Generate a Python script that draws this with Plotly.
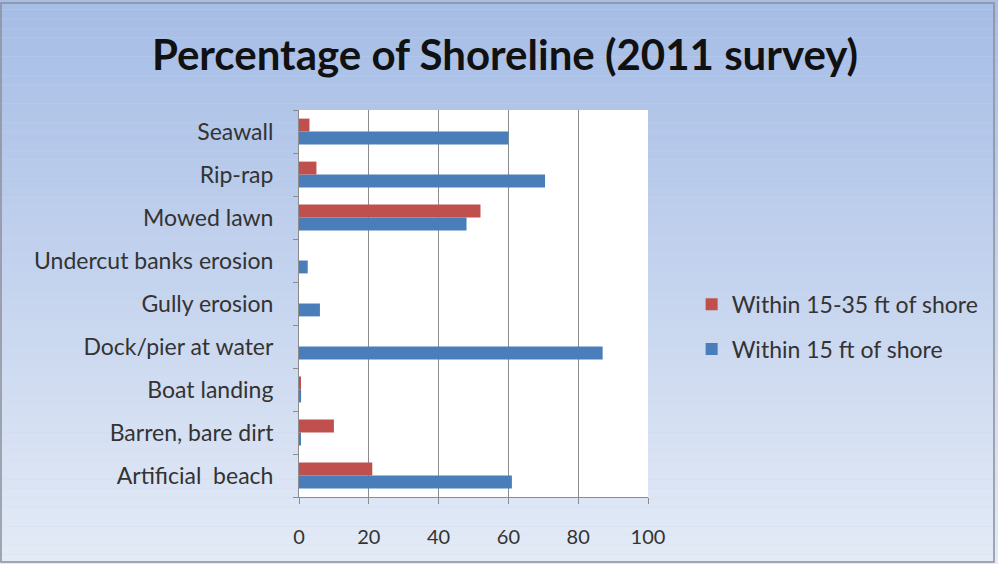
import plotly.graph_objects as go

categories = ["Artificial  beach", "Barren, bare dirt", "Boat landing", "Dock/pier at water",
              "Gully erosion", "Undercut banks erosion", "Mowed lawn", "Rip-rap", "Seawall"]
within_15 = [61, 0.5, 0.6, 87, 6, 2.5, 48, 70.5, 60]
within_15_35 = [21, 10, 0.5, 0, 0, 0, 52, 5, 3]
x_ticks = [0, 20, 40, 60, 80, 100]

W, H = 998, 564
L, R, T, B = 299, 350, 110, 67
PW, PH = W - L - R, H - T - B

fig = go.Figure()
fig.add_trace(go.Bar(y=categories, x=within_15, orientation="h", name="Within 15 ft of shore",
                     legendgroup="a", legendrank=2,
                     marker=dict(color="#4a7ebb", line=dict(width=0))))
fig.add_trace(go.Bar(y=categories, x=within_15_35, orientation="h", name="Within 15-35 ft of shore",
                     legendgroup="b", legendrank=1,
                     marker=dict(color="#c0504d", line=dict(width=0))))

# background gradient (decorative)
shapes = []
n = 60
top = (166, 189, 230)
bot = (228, 235, 247)
for i in range(n):
    f = i / (n - 1)
    c = tuple(int(top[k] + (bot[k] - top[k]) * f) for k in range(3))
    shapes.append(dict(type="rect", xref="paper", yref="paper",
                       x0=-L / PW, x1=(W - L) / PW,
                       y0=1 + T / PH - (i + 1) * (H / PH) / n,
                       y1=1 + T / PH - i * (H / PH) / n,
                       fillcolor="rgb(%d,%d,%d)" % c, line=dict(width=0), layer="below"))
shapes.append(dict(type="rect", xref="paper", yref="paper", x0=0, x1=1, y0=0, y1=1,
                   fillcolor="white", line=dict(width=0), layer="below"))
shapes.append(dict(type="rect", xref="paper", yref="paper",
                   x0=(1 - L) / PW, x1=(W - L - 4) / PW,
                   y0=-(B - 2) / PH, y1=1 + (T - 3) / PH,
                   fillcolor="rgba(0,0,0,0)", line=dict(width=1.5, color="#8a8f99")))

fig.update_layout(
    width=W, height=H,
    margin=dict(l=L, r=R, t=T, b=B, autoexpand=False),
    paper_bgcolor="#c9d7ee", plot_bgcolor="rgba(0,0,0,0)",
    barmode="group", bargap=0.4, bargroupgap=0,
    shapes=shapes,
    title=dict(text="<b>Percentage of Shoreline (2011 survey)</b>", x=505 / W, xref="container",
               xanchor="center", y=1 - 55 / H, yref="container", yanchor="middle",
               font=dict(family="Lato", size=42, color="#111111")),
    font=dict(family="Lato", size=20, color="#333333"),
    legend=dict(x=1.125, xanchor="left", y=0.44, yanchor="middle", traceorder="grouped",
                bgcolor="rgba(0,0,0,0)", font=dict(size=23, color="#333333"),
                itemwidth=30, tracegroupgap=12),
    xaxis=dict(range=[0, 100], tickvals=x_ticks, showgrid=True, gridcolor="#8c8c8c", gridwidth=1,
               zeroline=False, showline=True, linecolor="#8c8c8c", ticks="outside",
               ticklen=6, tickcolor="#8c8c8c", ticklabelstandoff=16, automargin=False,
               tickfont=dict(size=20, color="#333333")),
    yaxis=dict(showline=True, linecolor="#8c8c8c", ticks="outside", ticklen=5, tickcolor="#8c8c8c",
               tickson="boundaries", showgrid=False, automargin=False, ticklabelstandoff=20,
               tickfont=dict(size=23, color="#333333")),
)
fig.write_html("out.html", config={"displayModeBar": False},
               post_script="document.body.style.margin='0';")
